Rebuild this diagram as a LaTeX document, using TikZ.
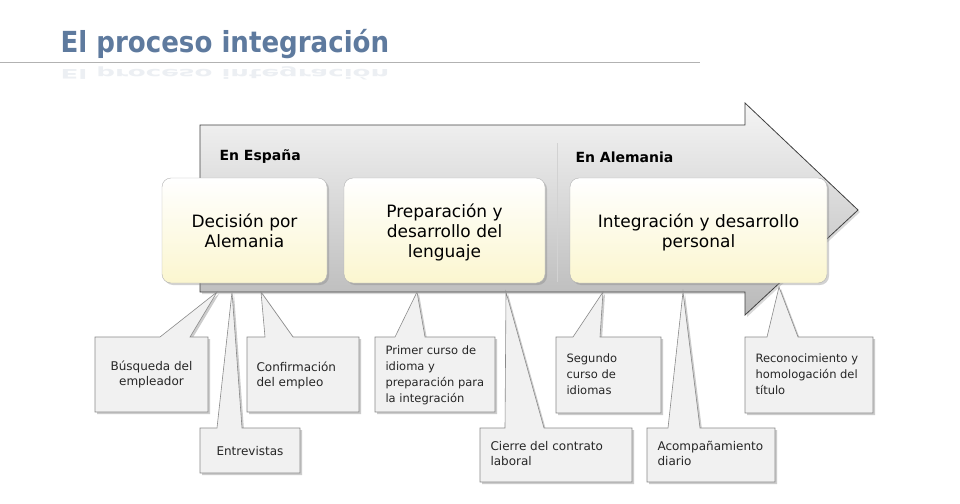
\documentclass[tikz,border=0pt]{standalone}
\usepackage{fontspec}
\setmainfont{DejaVu Sans}
\newfontfamily\titlefont{DejaVu Sans Condensed}
\usetikzlibrary{shadows}
\definecolor{titlec}{HTML}{5E7A9E}
\definecolor{cream}{HTML}{FBF6CF}
\definecolor{callfill}{HTML}{F1F1F1}
\definecolor{edgec}{HTML}{8A8A8A}
\begin{document}
\begin{tikzpicture}[x=1pt,y=-1pt,
  mainbox/.style={draw=gray!60, rounded corners=9pt, top color=white, bottom color=cream, drop shadow={shadow xshift=2pt,shadow yshift=-2pt,opacity=0.35}},
  maintext/.style={align=center, font=\fontsize{17}{20}\selectfont, text=black},
  callout/.style={draw=edgec, fill=callfill, line width=0.6pt, drop shadow={shadow xshift=2pt,shadow yshift=-2pt,opacity=0.4}},
  calltext/.style={align=left, anchor=north west, font=\fontsize{12}{15}\selectfont, text=black!85},
  phase/.style={font=\bfseries\fontsize{14}{16}\selectfont, anchor=west}]
\useasboundingbox (0,0) rectangle (960,503);
\fill[white] (0,0) rectangle (960,503);
% title
\node[anchor=west, font=\titlefont\bfseries\fontsize{29}{32}\selectfont, text=titlec] (title) at (57,44) {El proceso integración};
\node[anchor=west, font=\titlefont\bfseries\fontsize{29}{32}\selectfont, text=titlec!12, yscale=-0.45] (refl) at (57,73) {El proceso integración};
\fill[white, path fading=north, opacity=0] (0,70) rectangle (10,71);
\draw[gray!60, line width=0.8pt] (0,62.5) -- (700,62.5);
% arrow
\path[draw=black!75, line width=0.8pt, top color=gray!8, bottom color=gray!55,
  drop shadow={shadow xshift=2pt,shadow yshift=-2pt,opacity=0.3}]
  (200,125) -- (745,125) -- (745,103) -- (858,210) -- (745,315) -- (745,292) -- (200,292) -- cycle;
\coordinate (arrowtip) at (858,210);
\draw[gray!35, line width=1pt] (557,143) -- (557,282);
\node[phase] (es) at (216,157) {En España};
\node[phase] (de) at (572,157) {En Alemania};
% main boxes
\node[mainbox, minimum width=165pt, minimum height=105pt] (b1) at (244.5,230.5) {};
\node[maintext] at (b1) {Decisión por\\Alemania};
\node[mainbox, minimum width=201pt, minimum height=105pt] (b2) at (444.5,230.5) {};
\node[maintext, anchor=north] at (444.5,200) {Preparación y\\desarrollo del\\lenguaje};
\node[mainbox, minimum width=257pt, minimum height=105pt] (b3) at (698.5,230.5) {};
\node[maintext, anchor=north] at (698.5,210) {Integración y desarrollo\\personal};
% callouts: box l,r,t,b ; base x1,x2 ; tip
\newcommand{\callbox}[9]{%
  \path[callout] (#1,#3) -- (#5,#3) -- (#7,#8) -- (#6,#3) -- (#2,#3) -- (#2,#4) -- (#1,#4) -- cycle;
  \coordinate (#9) at (#7,#8);}
\callbox{95}{208}{337}{412}{160}{190}{217}{292}{t1}
\node[calltext, align=center, anchor=center] (c1) at (151.5,374) {Búsqueda del\\empleador};
\callbox{200}{300}{428}{473}{217}{242}{232}{292}{t2}
\node[calltext, anchor=center] (c2) at (250,451) {Entrevistas};
\callbox{247}{359}{337}{412}{265}{293}{261}{292}{t3}
\node[calltext] (c3) at (253,358) {Confirmación\\del empleo};
\callbox{375}{495}{337}{412}{395}{425}{417}{292}{t4}
\node[calltext, font=\fontsize{11.5}{16}\selectfont] (c4) at (382,342) {Primer curso de\\idioma y\\preparación para\\la integración};
\callbox{480}{632}{428}{482}{505}{544}{506}{292}{t5}
\node[calltext] (c5) at (487,438) {Cierre del contrato\\laboral};
\callbox{556}{661}{337}{413}{573}{600}{603}{292}{t6}
\node[calltext, font=\fontsize{11.5}{16}\selectfont] (c6) at (563,350) {Segundo\\curso de\\idiomas};
\callbox{647}{775}{428}{482}{668}{700}{683}{292}{t7}
\node[calltext] (c7) at (654,438) {Acompañamiento\\diario};
\callbox{745}{873}{337}{413}{767}{798}{779}{287}{t8}
\node[calltext, font=\fontsize{11.5}{16}\selectfont] (c8) at (752,350) {Reconocimiento y\\homologación del\\título};
\end{tikzpicture}
\end{document}
